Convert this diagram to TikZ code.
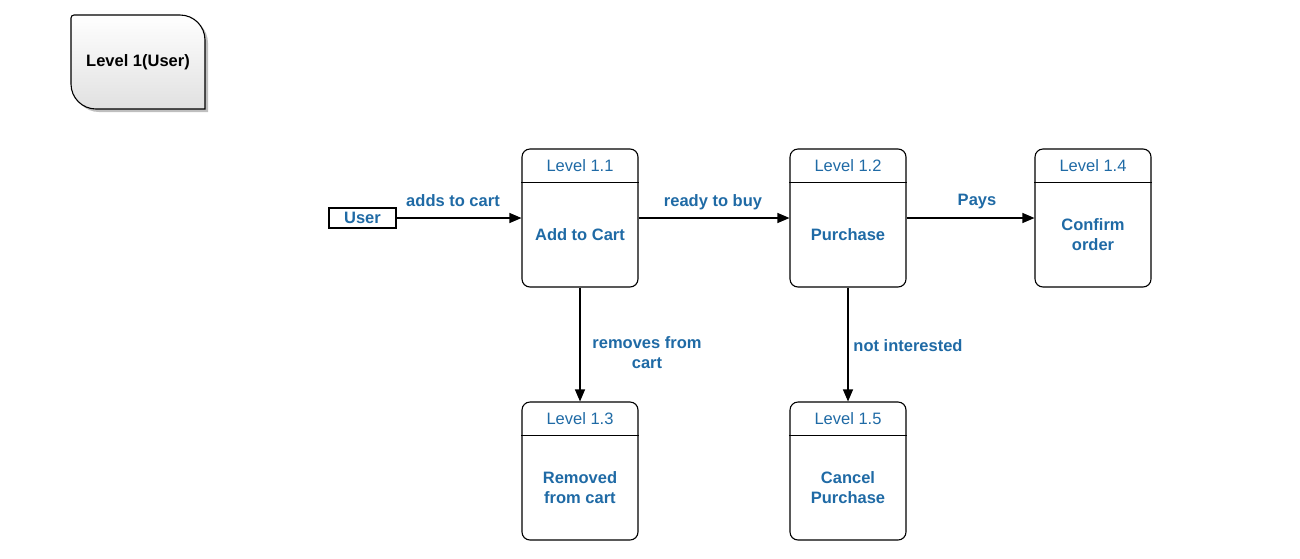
\documentclass[tikz,border=0pt]{standalone}
\usepackage{fontspec}
\setmainfont{Liberation Sans}
\usetikzlibrary{arrows.meta,calc}
\definecolor{lblue}{HTML}{1F6AA5}
\tikzset{
  procbox/.style={draw=black, line width=1.1pt, rounded corners=8pt, minimum width=116pt, minimum height=138pt, inner sep=0pt},
  headtxt/.style={text=lblue, font=\fontsize{16.5}{19}\selectfont},
  bodytxt/.style={text=lblue, font=\fontsize{16.5}{20}\selectfont\bfseries, align=center},
  flowlbl/.style={text=lblue, font=\fontsize{16.5}{20}\selectfont\bfseries, align=center, inner sep=0pt},
  flow/.style={draw=black, line width=1.1pt, -{Triangle[length=12pt,width=10pt]}},
  extbox/.style={draw=black, line width=1.1pt, minimum width=67pt, minimum height=20pt, inner sep=0pt, text=lblue, font=\fontsize{16.5}{19}\selectfont\bfseries}
}
\newcommand{\procnode}[5]{%
  \node[procbox] (#1) at (#2,#3) {};
  \draw[line width=1.1pt] ([yshift=-34pt]#1.north west) -- ([yshift=-34pt]#1.north east);
  \node[headtxt] (#1h) at ([yshift=-17pt]#1.north) {#4};
  \node[bodytxt] (#1b) at ($([yshift=-34pt]#1.north)!0.5!(#1.south)$) {#5};
}
\begin{document}
\begin{tikzpicture}[x=1pt,y=-1pt]
\useasboundingbox (0,0) rectangle (1300,558);
% Level 1(User) box with shadow
\begin{scope}[shift={(3,3)}]
\fill[black!25] (71,84) -- (71,18) .. controls (71,16.3) and (72.3,15) .. (74,15) -- (180,15) .. controls (193.8,15) and (205,26.2) .. (205,40) -- (205,109) -- (96,109) .. controls (82.2,109) and (71,97.8) .. (71,84) -- cycle;
\end{scope}
\draw[line width=1.1pt, top color=white, bottom color=black!12] (71,84) -- (71,18) .. controls (71,16.3) and (72.3,15) .. (74,15) -- (180,15) .. controls (193.8,15) and (205,26.2) .. (205,40) -- (205,109) -- (96,109) .. controls (82.2,109) and (71,97.8) .. (71,84) -- cycle;
\node[font=\fontsize{16.5}{19}\selectfont\bfseries] (lvl) at (138,62) {Level 1(User)};

% external entity
\node[extbox] (user) at (362.5,218) {User};

% processes
\procnode{p11}{580}{218}{Level 1.1}{Add to Cart}
\procnode{p12}{848}{218}{Level 1.2}{Purchase}
\procnode{p14}{1093}{218}{Level 1.4}{Confirm\\order}
\procnode{p13}{580}{471}{Level 1.3}{Removed\\from cart}
\procnode{p15}{848}{471}{Level 1.5}{Cancel\\Purchase}

% flows
\draw[flow] (user.east) -- (user.east -| p11.west);
\draw[flow] (p11.east) -- (p12.west);
\draw[flow] (p12.east) -- (p14.west);
\draw[flow] (p11.south) -- (p13.north);
\draw[flow] (p12.south) -- (p15.north);

% labels
\node[flowlbl] (l1) at (453,201) {adds to cart};
\node[flowlbl] (l2) at (713,202) {ready to buy};
\node[flowlbl] (l3) at (977,202) {Pays};
\node[flowlbl] (l4) at (647,353) {removes from\\cart};
\node[flowlbl] (l5) at (908,346) {not interested};
\end{tikzpicture}
\end{document}
